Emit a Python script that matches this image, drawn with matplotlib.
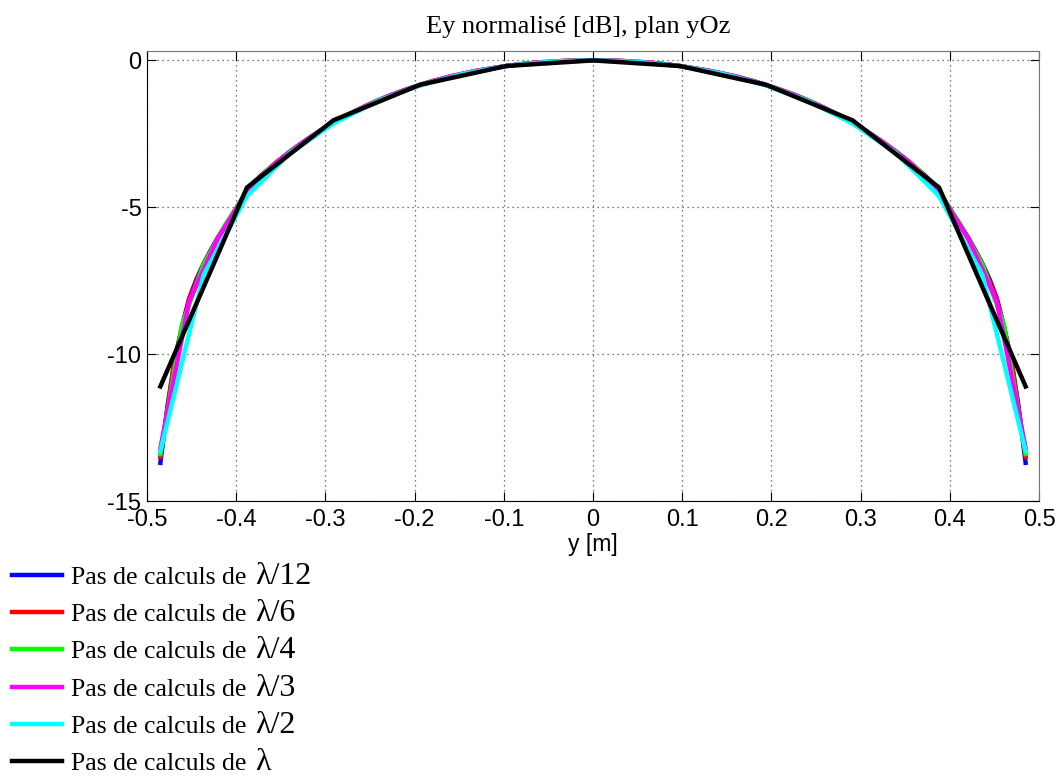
import numpy as np
import matplotlib
matplotlib.use("Agg")
import matplotlib.pyplot as plt
from matplotlib.lines import Line2D

# normalised Ey [dB] along y, read from centre (y=0) to edge (y=0.485 m);
# the cut is symmetric so each half is mirrored below
half_edge = 0.485

ey_lambda12 = [0.00, 0.00, -0.01, -0.01, -0.02, -0.03, -0.05, -0.06, -0.08, -0.11,
               -0.13, -0.16, -0.19, -0.23, -0.27, -0.31, -0.35, -0.40, -0.45, -0.51,
               -0.56, -0.63, -0.69, -0.76, -0.84, -0.92, -1.00, -1.09, -1.18, -1.28,
               -1.38, -1.49, -1.61, -1.73, -1.85, -1.98, -2.12, -2.27, -2.42, -2.58,
               -2.75, -2.92, -3.10, -3.29, -3.49, -3.70, -3.91, -4.14, -4.42, -4.88,
               -5.25, -5.62, -6.02, -6.45, -6.92, -7.45, -8.10, -9.05, -10.20, -11.75,
               -13.70]
ey_lambda6 = [0.00, -0.01, -0.02, -0.05, -0.08, -0.13, -0.19, -0.27, -0.35, -0.45,
              -0.56, -0.69, -0.84, -1.00, -1.18, -1.38, -1.61, -1.85, -2.12, -2.42,
              -2.75, -3.10, -3.49, -3.92, -4.44, -5.26, -6.03, -6.93, -8.12, -10.15,
              -13.50]
ey_lambda4 = [0.00, -0.01, -0.05, -0.11, -0.19, -0.31, -0.45, -0.63, -0.84, -1.09,
              -1.38, -1.73, -2.12, -2.58, -3.10, -3.70, -4.45, -5.60, -6.95, -9.00,
              -13.40]
ey_lambda3 = [0.00, -0.02, -0.08, -0.19, -0.35, -0.56, -0.84, -1.18, -1.61, -2.12,
              -2.75, -3.49, -4.47, -6.05, -8.20, -13.20]
ey_lambda2 = [0.00, -0.05, -0.19, -0.46, -0.85, -1.40, -2.15, -3.15, -4.62, -7.30,
              -13.30]
ey_lambda1 = [0.00, -0.19, -0.83, -2.04, -4.33, -11.10]

series_data = [ey_lambda12, ey_lambda6, ey_lambda4, ey_lambda3, ey_lambda2, ey_lambda1]
series_colors = ["#0000ff", "#ff0000", "#00ff00", "#ff00ff", "#00ffff", "#000000"]
step_labels = ["λ/12", "λ/6", "λ/4", "λ/3", "λ/2", "λ"]

x_ticks = [-0.5, -0.4, -0.3, -0.2, -0.1, 0, 0.1, 0.2, 0.3, 0.4, 0.5]
x_tick_labels = ["-0.5", "-0.4", "-0.3", "-0.2", "-0.1", "0",
                 "0.1", "0.2", "0.3", "0.4", "0.5"]
y_ticks = [-15, -10, -5, 0]
y_tick_labels = ["-15", "-10", "-5", "0"]


def full_profile(half):
    x_half = np.linspace(0, half_edge, len(half))
    v_half = np.array(half)
    x = np.concatenate([-x_half[::-1], x_half[1:]])
    v = np.concatenate([v_half[::-1], v_half[1:]])
    return x, v


W, H = 1058, 776
fig = plt.figure(figsize=(W / 100, H / 100), dpi=100)
ax = fig.add_axes([147 / W, (H - 501) / H, (1039 - 147) / W, (501 - 51) / H])

for data, color in zip(series_data, series_colors):
    x, v = full_profile(data)
    ax.plot(x, v, color=color, linewidth=3.2, solid_joinstyle="miter")

ax.set_xlim(-0.5, 0.5)
ax.set_ylim(-15, 0.32)
ax.set_xticks(x_ticks)
ax.set_xticklabels(x_tick_labels)
ax.set_yticks(y_ticks)
ax.set_yticklabels(y_tick_labels)
ax.grid(True, linestyle=(0, (1, 3)), color="0.3", linewidth=0.9)
ax.tick_params(direction="in", length=6.5, width=0.8, top=True, right=True,
               labelsize=17)
ax.tick_params(axis="x", pad=6)
ax.tick_params(axis="y", pad=4)
for lab in ax.get_xticklabels() + ax.get_yticklabels():
    lab.set_family("Liberation Sans")
for side in ["left", "bottom"]:
    ax.spines[side].set_color("black")
for side in ["top", "right"]:
    ax.spines[side].set_color("0.45")

ax.set_xlabel("y [m]", fontsize=16.5, family="Liberation Sans", labelpad=1)
ax.set_title("Ey normalisé [dB], plan yOz", fontsize=19,
             family="Liberation Serif", pad=13, x=0.483)

handles = [Line2D([], [], color=c, linewidth=3.2) for c in series_colors]
leg = fig.legend(handles, ["Pas de calculs de"] * len(handles),
                 loc="upper left", bbox_to_anchor=(12 / W, (H - 566) / H),
                 frameon=False, prop={"family": "Liberation Serif", "size": 18.5},
                 handlelength=1.95, handletextpad=0.36, labelspacing=0.555,
                 borderpad=0, borderaxespad=0)

# the step value is written larger, right after each legend label
fig.canvas.draw()
renderer = fig.canvas.get_renderer()
for t, step in zip(leg.get_texts(), step_labels):
    bb = t.get_window_extent(renderer)
    _, _, d = renderer.get_text_width_height_descent("lp", t.get_fontproperties(),
                                                    ismath=False)
    fig.text((bb.x1 + 8) / W, (bb.y0 + d) / H, step, fontsize=23,
             family="Liberation Serif", va="baseline", ha="left")

fig.savefig("out.png", dpi=100)
